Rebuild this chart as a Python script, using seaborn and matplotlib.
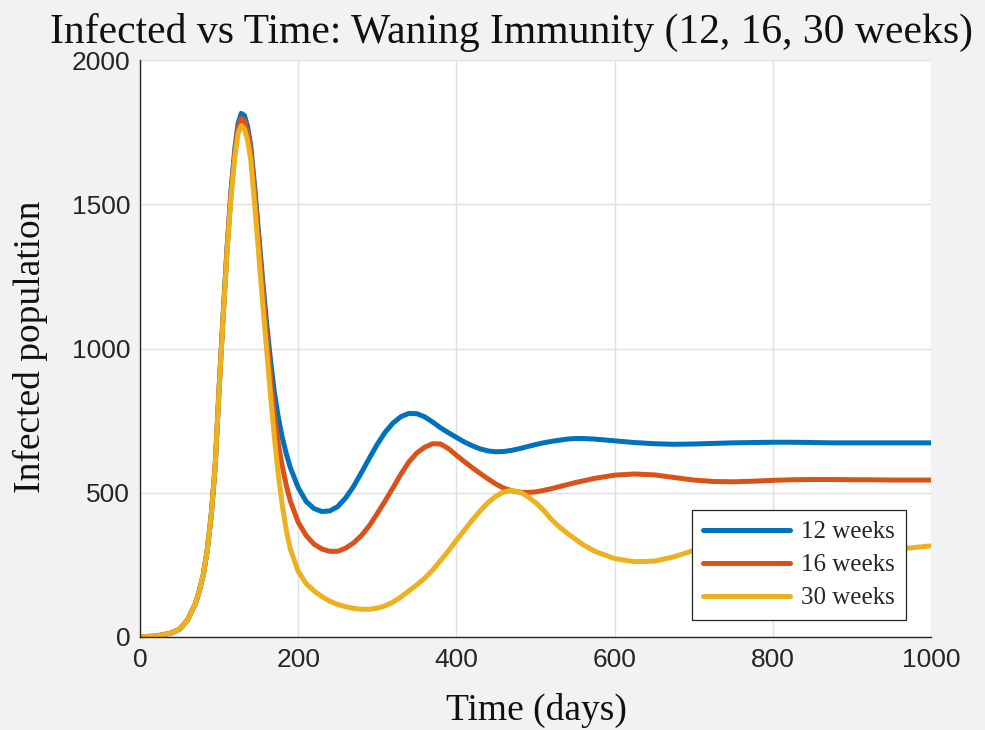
import numpy as np
import pandas as pd
import seaborn as sns
import matplotlib
matplotlib.use('Agg')
import matplotlib.pyplot as plt

# Values (days, infected population)
days = [0, 20, 40, 50, 60, 70, 75, 80, 85, 90, 95, 100, 105, 110, 115, 120, 124, 128,
        132, 136, 140, 145, 150, 155, 160, 165, 170, 175, 180, 185, 190, 200, 210, 220,
        230, 240, 250, 260, 270, 280, 290, 300, 310, 320, 330, 340, 350, 360, 370, 380,
        390, 400, 410, 420, 430, 440, 450, 460, 470, 480, 490, 500, 510, 520, 530, 540,
        550, 560, 575, 600, 625, 650, 675, 700, 725, 750, 775, 800, 825, 850, 875, 900,
        925, 950, 975, 1000]

infected_12 = [1, 3, 14, 27, 58, 115, 160, 215, 300, 420, 590, 860, 1110, 1345, 1545, 1695, 1780, 1815,
               1808, 1770, 1705, 1560, 1400, 1240, 1090, 960, 845, 760, 690, 635, 588, 518, 470, 445,
               435, 437, 452, 482, 522, 570, 620, 668, 710, 742, 764, 775, 774, 763, 745, 725,
               708, 692, 676, 663, 652, 645, 642, 643, 647, 653, 660, 667, 673, 678, 682, 686,
               688, 688, 686, 680, 674, 670, 668, 669, 671, 673, 674, 675, 675, 674, 673, 673,
               673, 673, 673, 673]

infected_16 = [1, 3, 14, 27, 58, 115, 160, 215, 300, 420, 590, 860, 1105, 1340, 1535, 1685, 1765, 1798,
               1790, 1752, 1688, 1540, 1380, 1215, 1055, 905, 770, 668, 590, 525, 472, 398, 352, 322,
               305, 297, 297, 308, 326, 352, 386, 428, 472, 518, 565, 607, 638, 658, 670, 669,
               653, 630, 608, 587, 567, 548, 530, 516, 507, 502, 501, 503, 508, 514, 521, 528,
               535, 541, 550, 561, 565, 562, 553, 544, 539, 538, 540, 543, 545, 546, 546, 545,
               545, 544, 544, 544]

infected_30 = [1, 3, 14, 27, 58, 115, 160, 215, 300, 420, 590, 855, 1100, 1330, 1520, 1665, 1745, 1772,
               1762, 1722, 1655, 1500, 1330, 1160, 1000, 840, 690, 560, 455, 370, 305, 228, 185, 160,
               140, 124, 113, 105, 99, 96, 96, 100, 108, 121, 139, 160, 181, 204, 232, 265,
               299, 335, 370, 405, 437, 466, 488, 503, 508, 503, 487, 466, 440, 408, 382, 360,
               340, 320, 297, 272, 261, 263, 278, 300, 320, 334, 343, 345, 342, 335, 326, 317,
               310, 306, 309, 316]

series_labels = ['12 weeks', '16 weeks', '30 weeks']
series_colors = ['#0072BD', '#D95319', '#EDB120']

x_ticks = [0, 200, 400, 600, 800, 1000]
y_ticks = [0, 500, 1000, 1500, 2000]

# long-form table for seaborn
frames = []
for label, vals in zip(series_labels, [infected_12, infected_16, infected_30]):
    frames.append(pd.DataFrame({'day': days, 'infected': vals, 'immunity': label}))
df = pd.concat(frames, ignore_index=True)

sns.set_theme(style='whitegrid')
plt.rcParams['font.family'] = ['Liberation Sans', 'DejaVu Sans']

fig, ax = plt.subplots(figsize=(9.85, 7.30), dpi=100)
fig.patch.set_facecolor('#f2f2f2')
ax.set_facecolor('white')
fig.subplots_adjust(left=0.1421, right=0.9452, bottom=0.1274, top=0.9178)

sns.lineplot(data=df, x='day', y='infected', hue='immunity', hue_order=series_labels,
             palette=series_colors, linewidth=3.6, estimator=None, sort=False, ax=ax)

ax.set_xlim(0, 1000)
ax.set_ylim(0, 2000)
ax.set_xticks(x_ticks)
ax.set_yticks(y_ticks)
ax.set_xlabel('')
ax.set_ylabel('')

ax.grid(True, color='#e0e0e0', linewidth=1.0)
ax.set_axisbelow(True)
for side in ['top', 'right']:
    ax.spines[side].set_visible(False)
for side in ['left', 'bottom']:
    ax.spines[side].set_color('#262626')
    ax.spines[side].set_linewidth(1.0)
ax.tick_params(direction='in', length=6, width=1, color='#262626',
               labelcolor='#262626', labelsize=19)
ax.tick_params(axis='x', pad=8)
ax.tick_params(axis='y', pad=7)

handles, labels = ax.get_legend_handles_labels()
leg = ax.legend(handles, labels, loc='lower right', bbox_to_anchor=(0.968, 0.0295),
                borderaxespad=0, fancybox=False, framealpha=1, edgecolor='#262626',
                prop={'family': 'Liberation Serif', 'size': 18},
                handlelength=3.5, handletextpad=0.45, labelspacing=0.42, borderpad=0.42)
leg.get_frame().set_linewidth(0.9)
for h in leg.get_lines():
    h.set_linewidth(3.6)

fig.text(512 / 985, 1 - 43 / 730, 'Infected vs Time: Waning Immunity (12, 16, 30 weeks)',
         ha='center', va='baseline', fontsize=30, family='Liberation Serif', color='#111111')
fig.text(536 / 985, 1 - 720 / 730, 'Time (days)', ha='center', va='baseline',
         fontsize=27, family='Liberation Serif', color='#111111')
fig.text(30 / 985, 1 - 347 / 730, 'Infected population', ha='center', va='center',
         rotation=90, fontsize=27, family='Liberation Serif', color='#111111')

fig.savefig('out.png', dpi=100, facecolor=fig.get_facecolor())
